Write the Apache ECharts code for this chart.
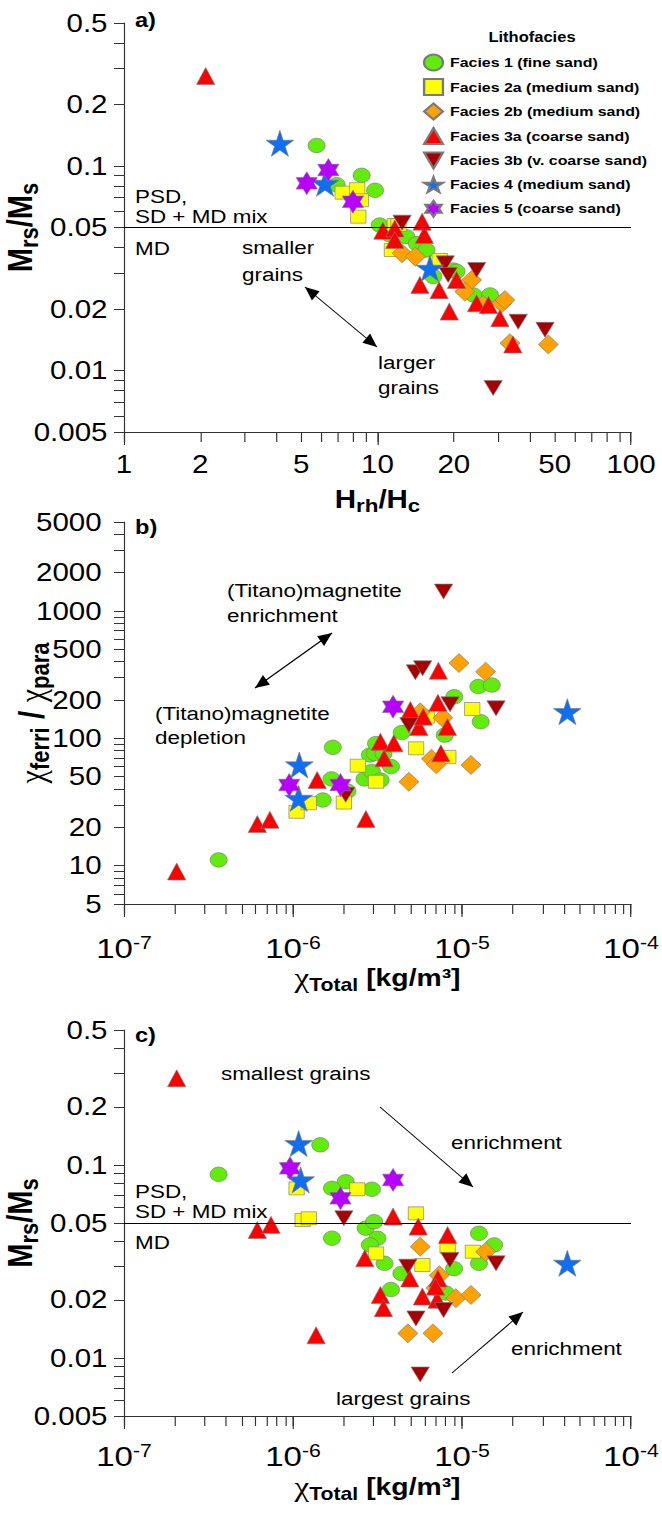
<!DOCTYPE html>
<html>
<head>
<meta charset="utf-8">
<title>Lithofacies - magnetic grain size and concentration</title>
<script src="https://cdn.jsdelivr.net/npm/echarts@6/dist/echarts.min.js"></script>
<style>
    html, body { margin: 0; padding: 0; background: #fff; }
    /* the original figure is stretched sideways, so the chart is too */
    #main { width: 561px; height: 1513px; transform: scaleX(1.18); transform-origin: 0 0; }
</style>
</head>
<body>
<div id="main"></div>
<script>
// ---- panel a: Hrh/Hc vs Mrs/Ms ----
var aF1 = [[5.75, 0.126], [6.9, 0.081], [8.66, 0.090], [9.78, 0.076], [10.2, 0.0514], [11.2, 0.046], [13.0, 0.0451], [14.3, 0.0417], [15.6, 0.0388], [16.6, 0.0288], [19.9, 0.031], [20.5, 0.0305], [23.9, 0.0234], [27.8, 0.0234]];
var aF2a = [[7.29, 0.074], [8.32, 0.077], [8.6, 0.068], [8.4, 0.0565], [11.7, 0.0514], [12.1, 0.0514], [11.4, 0.0388], [17.6, 0.0347]];
var aF2b = [[12.5, 0.0374], [14.1, 0.036], [23.5, 0.0277], [22.1, 0.0243], [26.1, 0.0209], [30.9, 0.0213], [31.8, 0.0221], [33.3, 0.0136], [47.2, 0.0134]];
var aF3a = [[2.1, 0.275], [10.5, 0.0482], [11.7, 0.0495], [11.7, 0.0434], [15.0, 0.0534], [15.3, 0.0459], [14.7, 0.0262], [17.5, 0.0247], [20.5, 0.0277], [19.2, 0.0194], [24.6, 0.0213], [27.4, 0.0209], [30.4, 0.018], [34.2, 0.0134]];
var aF3b = [[12.5, 0.0528], [18.5, 0.0334], [19.0, 0.0293], [24.6, 0.031], [35.9, 0.0173], [45.8, 0.0158], [28.6, 0.0082]];
var aF4 = [[4.12, 0.129], [6.21, 0.0822], [16.1, 0.0316]];
var aF5 = [[6.4, 0.0955], [5.26, 0.0822], [8.0, 0.0668]];

// ---- panel b: chi total vs chi ferri / chi para ----
var bF1 = [[3.63e-7, 11.1], [1.5e-6, 32.8], [1.72e-6, 85], [1.69e-6, 48], [2.1e-6, 38.5], [2.65e-6, 48], [2.85e-6, 74], [2.93e-6, 55], [3.3e-6, 47], [3.05e-6, 76], [3.43e-6, 76], [3.8e-6, 60], [3.1e-6, 91], [4.4e-6, 111], [7.9e-6, 106], [9.0e-6, 212], [1.25e-5, 255], [1.5e-5, 262], [1.29e-5, 135]];
var bF2a = [[1.05e-6, 26.5], [1.24e-6, 30.9], [2.0e-6, 31.3], [2.42e-6, 61], [3.1e-6, 45.6], [5.35e-6, 83.5], [8.3e-6, 71.5], [1.15e-5, 170], [6.2e-6, 148]];
var bF2b = [[9.6e-6, 390], [1.38e-5, 334], [4.85e-6, 45.6], [6.6e-6, 69], [7.05e-6, 62.5], [1.13e-5, 61.8], [7.7e-6, 145], [5.66e-6, 160]];
var bF3a = [[2.05e-7, 9.0], [6.15e-7, 21.2], [7.3e-7, 22.9], [1.39e-6, 47.1], [2.7e-6, 23.3], [3.29e-6, 94.2], [3.95e-6, 91.4], [3.46e-6, 69.7], [4.95e-6, 167], [5.55e-6, 123], [5.9e-6, 148], [7.25e-6, 340], [7.2e-6, 190], [8.2e-6, 123], [7.5e-6, 76.2]];
var bF3b = [[2.05e-6, 36], [5.3e-6, 330], [5.85e-6, 355], [4.85e-6, 127], [7.78e-6, 1420], [8.5e-6, 185], [1.59e-5, 172]];
var bF4 = [[1.09e-6, 61.8], [1.08e-6, 33.8], [4.2e-5, 162]];
var bF5 = [[9.5e-7, 43], [1.91e-6, 43], [3.91e-6, 177]];

// ---- panel c: chi total vs Mrs/Ms ----
var cF1 = [[3.63e-7, 0.0894], [1.45e-6, 0.127], [2.05e-6, 0.0818], [1.70e-6, 0.0756], [2.93e-6, 0.0748], [2.69e-6, 0.047], [3.02e-6, 0.0508], [3.16e-6, 0.0417], [2.85e-6, 0.0385], [1.70e-6, 0.0417], [3.48e-6, 0.0309], [4.38e-6, 0.0274], [3.80e-6, 0.0226], [1.26e-5, 0.0442], [1.55e-5, 0.0385], [1.26e-5, 0.0309], [8.98e-6, 0.029], [8.01e-6, 0.0217]];
var cF2a = [[1.05e-6, 0.0756], [1.14e-6, 0.0518], [1.24e-6, 0.0529], [2.40e-6, 0.0748], [3.10e-6, 0.0348], [5.34e-6, 0.0561], [5.83e-6, 0.0303], [8.22e-6, 0.0377], [1.16e-5, 0.0355]];
var cF2b = [[5.66e-6, 0.0377], [4.78e-6, 0.0134], [6.73e-6, 0.0134], [9.20e-6, 0.0204], [1.13e-5, 0.0212], [1.38e-5, 0.0355], [7.34e-6, 0.0268], [7.0e-6, 0.023]];
var cF3a = [[2.05e-7, 0.281], [6.15e-7, 0.046], [7.41e-7, 0.0489], [1.37e-6, 0.0131], [3.91e-6, 0.054], [5.51e-6, 0.0479], [8.22e-6, 0.0433], [2.66e-6, 0.0328], [3.29e-6, 0.0212], [3.43e-6, 0.0181], [4.91e-6, 0.0258], [5.83e-6, 0.0208], [7.13e-6, 0.020], [7.2e-6, 0.0258], [6.97e-6, 0.0234]];
var cF3b = [[2.0e-6, 0.0529], [4.78e-6, 0.0297], [8.47e-6, 0.0322], [1.59e-5, 0.0309], [5.34e-6, 0.016], [7.78e-6, 0.0177], [5.66e-6, 0.0082]];
var cF4 = [[1.08e-6, 0.129], [1.11e-6, 0.0836], [4.2e-5, 0.0309]];
var cF5 = [[9.6e-7, 0.096], [1.91e-6, 0.0671], [3.91e-6, 0.0836]];

// tick labels
var hrhLabels = [1, 2, 5, 10, 20, 50, 100];
var mrsLabels = [0.005, 0.01, 0.02, 0.05, 0.1, 0.2, 0.5];
var ratioLabels = [5, 10, 20, 50, 100, 200, 500, 1000, 2000, 5000];
var chiLabels = [1e-7, 1e-6, 1e-5, 1e-4];
var mdLimit = 0.05;

var SX = 1.18;
function px(x) { return x / SX; }   // reference x -> chart x

var FONT = 'Liberation Sans, Arial, Helvetica, sans-serif';
var GREEK = 'Liberation Serif, DejaVu Serif, serif';
var AXIS = '#333';

var STAR = 'path://M50 0 L61.2 34.5 L97.6 34.5 L68.2 55.9 L79.4 90.5 L50 69.1 L20.6 90.5 L31.8 55.9 L2.4 34.5 L38.8 34.5 Z';
var HEXA = 'path://M50 0 L64.4 25 L93.3 25 L78.9 50 L93.3 75 L64.4 75 L50 100 L35.6 75 L6.7 75 L21.1 50 L6.7 25 L35.6 25 Z';
var DOWN = 'path://M0 0 L100 0 L50 100 Z';

var facies = [
    { name: 'Facies 1 (fine sand)', color: '#62ec0c', symbol: 'circle', size: 14.5 },
    { name: 'Facies 2a (medium sand)', color: '#ffff00', symbol: 'rect', size: 13 },
    { name: 'Facies 2b (medium sand)', color: '#ffa200', symbol: 'diamond', size: [17, 19] },
    { name: 'Facies 3a (coarse sand)', color: '#ff0000', symbol: 'triangle', size: [15.5, 17] },
    { name: 'Facies 3b (v. coarse sand)', color: '#a80000', symbol: DOWN, size: [15.5, 15] },
    { name: 'Facies 4 (medium sand)', color: '#0f6ff2', symbol: STAR, size: [23.5, 26] },
    { name: 'Facies 5 (coarse sand)', color: '#b800ff', symbol: HEXA, size: [18, 23] }
];
var panelData = [
    [aF1, aF2a, aF2b, aF3a, aF3b, aF4, aF5],
    [bF1, bF2a, bF2b, bF3a, bF3b, bF4, bF5],
    [cF1, cF2a, cF2b, cF3a, cF3b, cF4, cF5]
];

// every 1..9 x 10^n tick between lo and hi
function allTicks(lo, hi) {
    var out = [];
    for (var e = Math.floor(Math.log10(lo)); e <= Math.ceil(Math.log10(hi)); e++) {
        for (var k = 1; k < 10; k++) {
            var v = +(k * Math.pow(10, e)).toPrecision(6);
            if (v >= lo && v <= hi) out.push(v);
        }
    }
    return out;
}
function decades(lo, hi) {
    return allTicks(lo, hi).filter(function (v) {
        var l = Math.log10(v);
        return Math.abs(l - Math.round(l)) < 1e-9;
    });
}

var plainFmt = function (v) { return String(v); };
var powFmt = function (v) { return '{n|10}{e|' + Math.round(Math.log10(v)) + '}'; };
var powRich = {
    n: { fontFamily: FONT, fontSize: 28, color: '#000' },
    e: { fontFamily: FONT, fontSize: 18, color: '#000', verticalAlign: 'top' }
};

function xAxisMain(grid, lo, hi, labels, fmt, size, margin, name, gap, rich) {
    return {
        type: 'log', logBase: 10, gridIndex: grid, min: lo, max: hi, position: 'bottom',
        axisLine: { lineStyle: { color: AXIS, width: 1 } },
        axisTick: { length: 10, lineStyle: { color: AXIS }, customValues: allTicks(lo, hi) },
        axisLabel: { customValues: labels, formatter: fmt, margin: margin, fontFamily: FONT, fontSize: size, color: '#000', rich: powRich },
        splitLine: { show: false },
        name: name, nameLocation: 'middle', nameGap: gap, nameMoveOverlap: false,
        nameTextStyle: { rich: rich }
    };
}
// same scale, only the longer decade ticks
function xAxisMajor(grid, lo, hi) {
    return {
        type: 'log', logBase: 10, gridIndex: grid, min: lo, max: hi, position: 'bottom',
        axisLine: { show: false },
        axisTick: { length: 13, lineStyle: { color: AXIS }, customValues: decades(lo, hi) },
        axisLabel: { show: false },
        splitLine: { show: false }
    };
}
function yAxisMain(grid, lo, hi, labels, margin, name, gap, rich) {
    return {
        type: 'log', logBase: 10, gridIndex: grid, min: lo, max: hi,
        axisLine: { lineStyle: { color: AXIS, width: 1 } },
        axisTick: { length: px(10), lineStyle: { color: AXIS }, customValues: allTicks(lo, hi) },
        axisLabel: { customValues: labels, formatter: plainFmt, margin: margin, fontFamily: FONT, fontSize: 25, color: '#000' },
        splitLine: { show: false },
        name: name, nameLocation: 'middle', nameGap: gap, nameRotate: 90, nameMoveOverlap: false,
        nameTextStyle: { rich: rich }
    };
}

var mrsRich = {
    b: { fontFamily: FONT, fontWeight: 'bold', fontSize: 29, color: '#000' },
    s: { fontFamily: FONT, fontWeight: 'bold', fontSize: 22, color: '#000', padding: [14, 0, 0, 0] }
};
var hrhRich = {
    b: { fontFamily: FONT, fontWeight: 'bold', fontSize: 25, color: '#000' },
    s: { fontFamily: FONT, fontWeight: 'bold', fontSize: 19, color: '#000', padding: [12, 0, 0, 0] }
};
var chiRich = {
    x: { fontFamily: GREEK, fontSize: 28, color: '#000' },
    s: { fontFamily: FONT, fontWeight: 'bold', fontSize: 18, color: '#000', padding: [14, 0, 0, 0] },
    t: { fontFamily: FONT, fontWeight: 'bold', fontSize: 24, color: '#000' }
};
var ratioRich = {
    x: { fontFamily: GREEK, fontSize: 30, color: '#000' },
    s: { fontFamily: FONT, fontWeight: 'bold', fontSize: 22, color: '#000', padding: [14, 0, 0, 0] },
    t: { fontFamily: FONT, fontWeight: 'bold', fontSize: 30, color: '#000' }
};
var MRS = '{b|M}{s|rs}{b|/M}{s|s}';
var CHI = '{x|χ}{s|Total}{t| [kg/m³]}';

var series = [];
for (var p = 0; p < 3; p++) {
    for (var f = 0; f < facies.length; f++) {
        var s = {
            name: facies[f].name,
            type: 'scatter',
            xAxisIndex: p * 2,
            yAxisIndex: p,
            symbol: facies[f].symbol,
            symbolSize: facies[f].size,
            itemStyle: { color: facies[f].color, borderColor: '#7a7a7a', borderWidth: 0.6, opacity: 1 },
            data: panelData[p][f]
        };
        if (f === 0 && p !== 1) {
            s.markLine = {
                silent: true, symbol: 'none', label: { show: false },
                lineStyle: { color: '#000', width: 1, type: 'solid' },
                data: [{ yAxis: mdLimit }]
            };
        }
        series.push(s);
    }
}

// annotation helpers, positions in reference pixels
function txt(x, y, str, size, bold, align) {
    return {
        type: 'text', x: px(x), y: y, silent: true,
        style: { text: str, fill: '#000', font: (bold ? 'bold ' : '') + size + 'px ' + FONT, align: align || 'left', verticalAlign: 'middle' }
    };
}
function head(tx, ty, fx, fy) {
    var dx = tx - fx, dy = ty - fy, l = Math.sqrt(dx * dx + dy * dy);
    var ux = dx / l, uy = dy / l, hl = 14, hw = 6;
    var bx = tx - ux * hl, by = ty - uy * hl;
    return {
        type: 'polygon', silent: true,
        shape: { points: [[px(tx), ty], [px(bx - uy * hw), by + ux * hw], [px(bx + uy * hw), by - ux * hw]] },
        style: { fill: '#000' }
    };
}
function arrow(x1, y1, x2, y2, both) {
    var out = [{
        type: 'line', silent: true,
        shape: { x1: px(x1), y1: y1, x2: px(x2), y2: y2 },
        style: { stroke: '#000', lineWidth: 1 }
    }, head(x2, y2, x1, y1)];
    if (both) out.push(head(x1, y1, x2, y2));
    return out;
}

var graphics = [
    txt(135, 20, 'a)', 20, true),
    txt(532, 37, 'Lithofacies', 14, true, 'center'),
    txt(135, 196, 'PSD,', 19), txt(135, 216, 'SD + MD mix', 19), txt(135, 248, 'MD', 19),
    txt(242, 247, 'smaller', 19), txt(242, 274, 'grains', 19),
    txt(378, 362, 'larger', 19), txt(378, 387, 'grains', 19),

    txt(135, 527, 'b)', 20, true),
    txt(227, 590, '(Titano)magnetite', 19), txt(227, 615, 'enrichment', 19),
    txt(155, 713, '(Titano)magnetite', 19), txt(155, 737, 'depletion', 19),

    txt(135, 1035, 'c)', 20, true),
    txt(221, 1073, 'smallest grains', 19),
    txt(451, 1142, 'enrichment', 19),
    txt(511, 1348, 'enrichment', 19),
    txt(336, 1398, 'largest grains', 19),
    txt(135, 1191, 'PSD,', 19), txt(135, 1211, 'SD + MD mix', 19), txt(135, 1242, 'MD', 19)
].concat(
    arrow(305, 287, 377, 347, true),
    arrow(255, 688, 332, 633, true),
    arrow(380, 1107, 473, 1187, false),
    arrow(452, 1373, 523, 1312, false)
);

var GL = px(124), GW = px(631) - px(124);
var chart = echarts.init(document.getElementById('main'), null, { renderer: 'svg' });
chart.setOption({
    animation: false,
    backgroundColor: '#fff',
    grid: [
        { left: GL, top: 23, width: GW, height: 409, containLabel: false, outerBoundsMode: 'none' },
        { left: GL, top: 522, width: GW, height: 382, containLabel: false, outerBoundsMode: 'none' },
        { left: GL, top: 1030, width: GW, height: 386, containLabel: false, outerBoundsMode: 'none' }
    ],
    xAxis: [
        xAxisMain(0, 1, 100, hrhLabels, plainFmt, 25, 20, '{b|H}{s|rh}{b|/H}{s|c}', 52, hrhRich),
        xAxisMajor(0, 1, 100),
        xAxisMain(1, 1e-7, 1e-4, chiLabels, powFmt, 28, 30, CHI, 58, chiRich),
        xAxisMajor(1, 1e-7, 1e-4),
        xAxisMain(2, 1e-7, 1e-4, chiLabels, powFmt, 28, 26, CHI, 55, chiRich),
        xAxisMajor(2, 1e-7, 1e-4)
    ],
    yAxis: [
        yAxisMain(0, 0.005, 0.5, mrsLabels, 14, MRS, 70, mrsRich),
        yAxisMain(1, 5, 5000, ratioLabels, 19, '{x|χ}{s|ferri}{t| / }{x|χ}{s|para}', 60, ratioRich),
        yAxisMain(2, 0.005, 0.5, mrsLabels, 14, MRS, 70, mrsRich)
    ],
    legend: {
        orient: 'vertical',
        left: px(417),
        top: 48.5,
        itemWidth: 16,
        itemHeight: 16,
        itemGap: 6.5,
        textStyle: { fontFamily: FONT, fontWeight: 'bold', fontSize: 13.5, color: '#000', lineHeight: 16, padding: [0, 0, 0, 1] },
        data: facies.map(function (f) { return { name: f.name, icon: f.symbol }; })
    },
    graphic: graphics,
    series: series
});
</script>
</body>
</html>
